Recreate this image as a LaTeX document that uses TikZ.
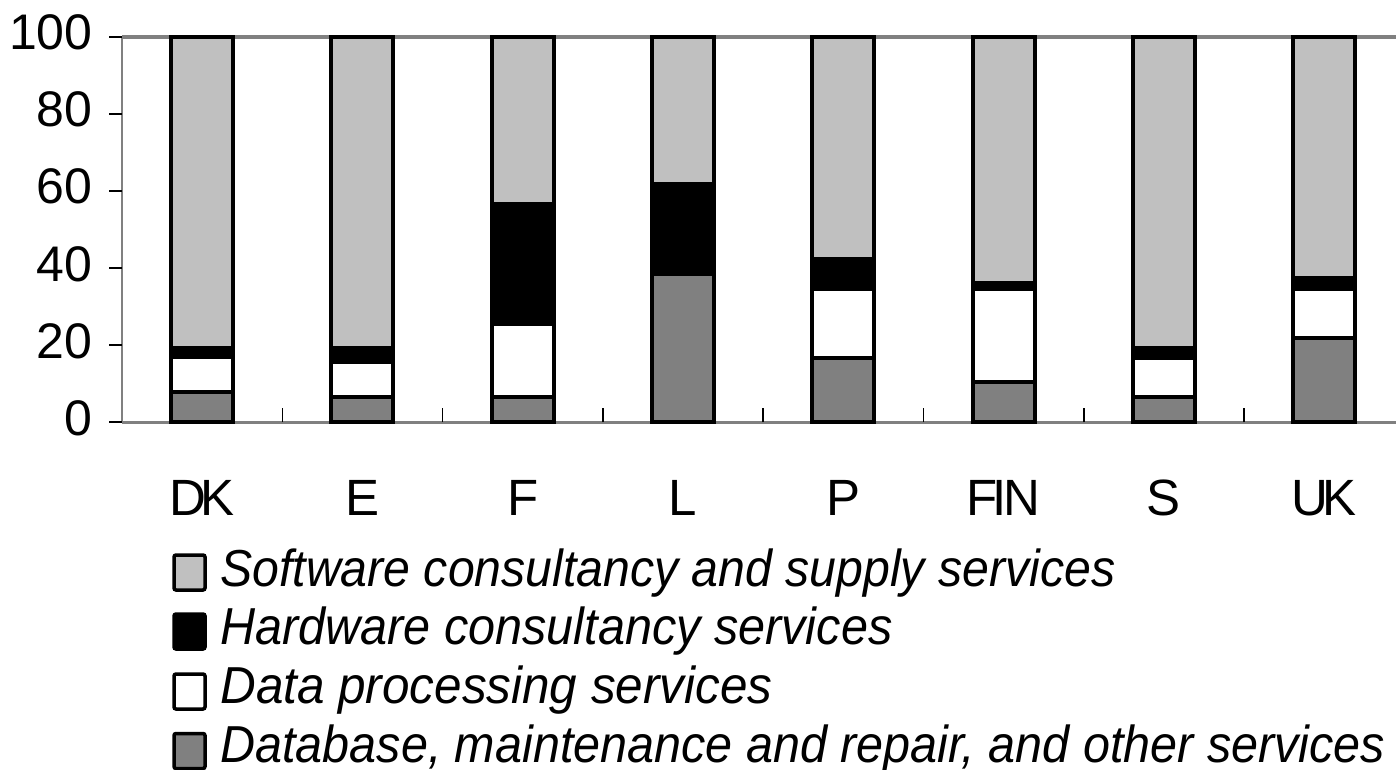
\documentclass[tikz,border=0pt]{standalone}
\usepackage{fontspec}
\setmainfont{Liberation Sans}
\usepackage{graphicx}
\definecolor{swgray}{HTML}{C0C0C0}
\definecolor{dbgray}{HTML}{808080}
\definecolor{axgray}{HTML}{808080}
\tikzset{
  seg/.style={draw=black, line width=2pt, line join=miter},
  swseg/.style={seg, fill=swgray},
  hwseg/.style={seg, fill=black},
  dpseg/.style={seg, fill=white},
  dbseg/.style={seg, fill=dbgray},
  axisline/.style={draw=axgray, line width=1pt},
  topline/.style={draw=axgray, line width=2pt},
  tickline/.style={draw=black, line width=0.75pt},
  ylab/.style={anchor=base east, inner sep=0pt, font=\fontsize{25pt}{30pt}\selectfont},
  catlab/.style={anchor=base, inner sep=0pt, font=\fontsize{25.5pt}{30pt}\selectfont},
  legtext/.style={anchor=base west, inner sep=0pt, font=\fontsize{26pt}{30pt}\selectfont\itshape},
  legbox/.style={draw=black, line width=1.75pt, rounded corners=1pt, minimum width=15.5pt, minimum height=17.5pt, inner sep=0pt}
}
\begin{document}
\begin{tikzpicture}[x=0.5pt, y=-0.5pt]
\useasboundingbox (0,0) rectangle (1396,770);
\fill[white] (0,0) rectangle (1396,770);
% axes
\draw[topline] (122,37) -- (1396,37);
\draw[axisline] (122,37) -- (122,422);
\draw[axisline, line width=1.5pt] (122,422) -- (1396,422);
% y ticks and labels
\foreach \v in {0,20,...,100} {
  \pgfmathsetmacro{\yy}{422-3.85*\v}
  \draw[tickline] (109,\yy) -- (122,\yy);
  \node[ylab] (y\v) at (93,\yy+13) {\v};
}
% x ticks
\foreach \k in {1,...,7} {
  \pgfmathsetmacro{\xx}{122+160.3*\k}
  \draw[tickline] (\xx,422) -- (\xx,408);
}
% bars
\foreach \i/\a/\b/\c in {0/7.8/16.8/19.2, 1/6.4/15.5/19.2, 2/6.6/25.5/56.6, 3/38.4/38.4/61.7, 4/16.5/34.5/42.4, 5/10.3/34.6/36.1, 6/6.4/16.6/19.3, 7/21.7/34.5/37.4} {
  \pgfmathsetmacro{\xl}{202.15+160.3*\i-31}
  \pgfmathsetmacro{\xr}{202.15+160.3*\i+31}
  \pgfmathsetmacro{\ya}{422-3.85*\a}
  \pgfmathsetmacro{\yb}{422-3.85*\b}
  \pgfmathsetmacro{\yc}{422-3.85*\c}
  \path[swseg] (\xl,\yc) rectangle (\xr,37);
  \path[hwseg] (\xl,\yb) rectangle (\xr,\yc);
  \path[dpseg] (\xl,\ya) rectangle (\xr,\yb);
  \path[dbseg] (\xl,422) rectangle (\xr,\ya);
}
% category labels
\foreach \i/\t in {0/{D\kern-3pt K}, 1/E, 2/F, 3/L, 4/P, 5/{F\kern-2.5pt I\kern-1.5pt N}, 6/S, 7/{U\kern-3pt K}} {
  \node[catlab] (cat\i) at ({202.15+160.3*\i},515) {\t};
}
% legend
\node[legbox, fill=swgray] (box1) at (189.5,572.5) {};
\node[legbox, fill=black] (box2) at (189.5,631.5) {};
\node[legbox, fill=white] (box3) at (189.5,691.5) {};
\node[legbox, fill=dbgray] (box4) at (189.5,751) {};
\node[legtext] (leg1) at (220,586) {\resizebox{447.5pt}{\height}{Software consultancy and supply services}};
\node[legtext] (leg2) at (220,644) {\resizebox{336pt}{\height}{Hardware consultancy services}};
\node[legtext] (leg3) at (220,703) {\resizebox{276pt}{\height}{Data processing services}};
\node[legtext] (leg4) at (220,762) {\resizebox{582.5pt}{\height}{Database, maintenance and repair, and other services}};
\end{tikzpicture}
\end{document}
